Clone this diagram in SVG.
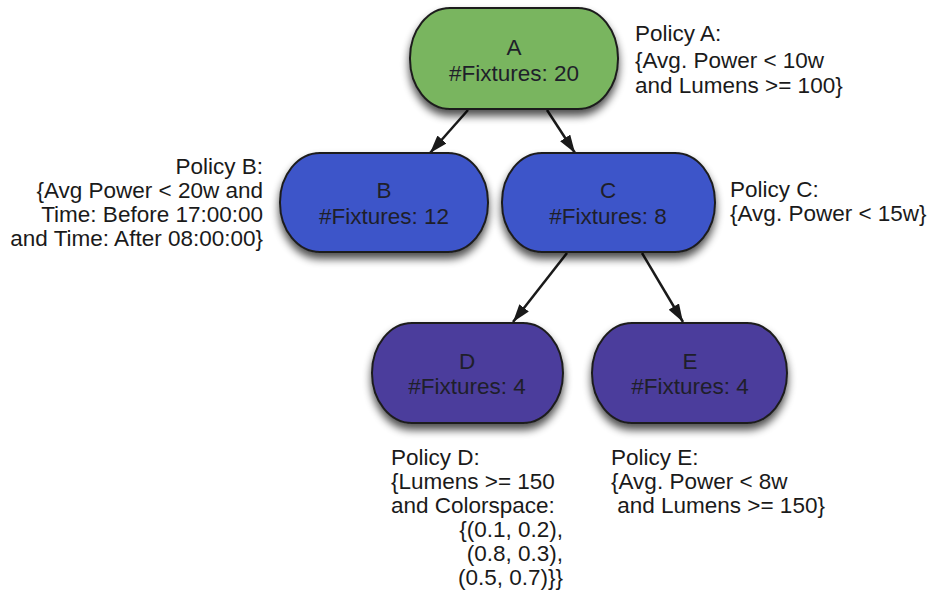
<svg xmlns="http://www.w3.org/2000/svg" width="931" height="602" viewBox="0 0 931 602">
<defs>
<filter id="sh" x="-20%" y="-20%" width="140%" height="150%">
<feGaussianBlur in="SourceAlpha" stdDeviation="4"/>
<feOffset dx="0" dy="6" result="b"/>
<feComponentTransfer><feFuncA type="linear" slope="0.7"/></feComponentTransfer>
<feMerge><feMergeNode/><feMergeNode in="SourceGraphic"/></feMerge>
</filter>
<marker id="ah" viewBox="0 0 18 12" refX="18" refY="6" markerWidth="18" markerHeight="12" markerUnits="userSpaceOnUse" orient="auto">
<path d="M0,0 L18,6 L0,12 z" fill="#1a1a1a"/>
</marker>
</defs>
<style>
.n{stroke:#1e1e1e;stroke-width:2;filter:url(#sh)}
.g{fill:#79b55e}
.b{fill:#3d54c9}
.p{fill:#4c3e9c}
.t{font-family:"Liberation Sans",Arial,sans-serif;font-size:22.5px;fill:#1f1f2a;text-anchor:middle}
.l{font-family:"Liberation Sans",Arial,sans-serif;font-size:22.5px;fill:#1a1a1a}
.c{stroke:#1a1a1a;stroke-width:2.5;fill:none;marker-end:url(#ah)}
</style>
<rect width="931" height="602" fill="#ffffff"/>
<g id="connectors">
<line class="c" x1="468" y1="110" x2="430" y2="153"/>
<line class="c" x1="547" y1="110" x2="575" y2="153"/>
<line class="c" x1="567" y1="253" x2="513" y2="322"/>
<line class="c" x1="642" y1="253" x2="683" y2="322"/>
</g>
<g id="nodeA">
<rect class="n g" x="410" y="8" width="208" height="101" rx="40" ry="50"/>
<text class="t" x="514" y="55">A</text>
<text class="t" x="514" y="81">#Fixtures: 20</text>
</g>
<g id="nodeB">
<rect class="n b" x="280" y="153" width="208" height="99" rx="40" ry="49"/>
<text class="t" x="384" y="198">B</text>
<text class="t" x="384" y="224">#Fixtures: 12</text>
</g>
<g id="nodeC">
<rect class="n b" x="502" y="153" width="213" height="99" rx="40" ry="49"/>
<text class="t" x="608" y="198">C</text>
<text class="t" x="608" y="224">#Fixtures: 8</text>
</g>
<g id="nodeD">
<rect class="n p" x="372" y="323" width="191" height="100" rx="40" ry="50"/>
<text class="t" x="467" y="369">D</text>
<text class="t" x="467" y="394">#Fixtures: 4</text>
</g>
<g id="nodeE">
<rect class="n p" x="592" y="323" width="195" height="100" rx="40" ry="50"/>
<text class="t" x="690" y="369">E</text>
<text class="t" x="690" y="394">#Fixtures: 4</text>
</g>
<g id="policyA">
<text class="l" x="635" y="41">Policy A:</text>
<text class="l" x="635" y="68">{Avg. Power &lt; 10w</text>
<text class="l" x="635" y="93">and Lumens &gt;= 100}</text>
</g>
<g id="policyB">
<text class="l" x="263" y="174" text-anchor="end">Policy B:</text>
<text class="l" x="263" y="198" text-anchor="end">{Avg Power &lt; 20w and</text>
<text class="l" x="263" y="222" text-anchor="end">Time: Before 17:00:00</text>
<text class="l" x="263" y="246" text-anchor="end">and Time: After 08:00:00}</text>
</g>
<g id="policyC">
<text class="l" x="730" y="197">Policy C:</text>
<text class="l" x="730" y="221">{Avg. Power &lt; 15w}</text>
</g>
<g id="policyD">
<text class="l" x="391" y="465">Policy D:</text>
<text class="l" x="391" y="489">{Lumens &gt;= 150</text>
<text class="l" x="391" y="513">and Colorspace:</text>
<text class="l" x="563" y="537" text-anchor="end">{(0.1, 0.2),</text>
<text class="l" x="563" y="561" text-anchor="end">(0.8, 0.3),</text>
<text class="l" x="563" y="585" text-anchor="end">(0.5, 0.7)}}</text>
</g>
<g id="policyE">
<text class="l" x="611" y="465">Policy E:</text>
<text class="l" x="611" y="489">{Avg. Power &lt; 8w</text>
<text class="l" x="611" y="513" xml:space="preserve"> and Lumens &gt;= 150}</text>
</g>
</svg>
